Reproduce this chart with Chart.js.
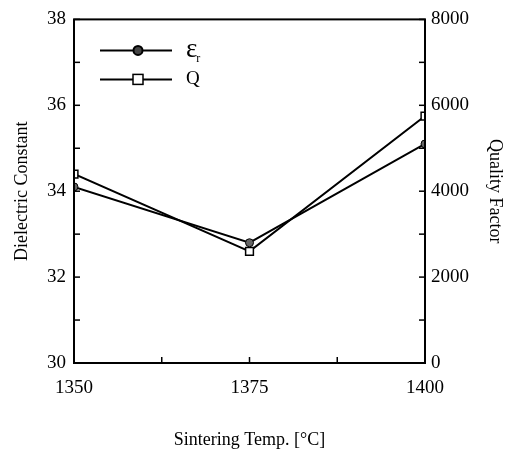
<!DOCTYPE html>
<html>
<head>
<meta charset="utf-8">
<script src="https://cdn.jsdelivr.net/npm/chart.js@4"></script>
<style>
  html, body { margin: 0; padding: 0; background: #fff; }
  #wrap { width: 519px; height: 458px; }
</style>
</head>
<body>
<div id="wrap"><canvas id="chart"></canvas></div>
<script>
// sintering temperature (x) and the two measured series
const temps = [1350, 1375, 1400];
const dielectric = [34.1, 32.8, 35.1];
const quality = [4400, 2600, 5750];

const xTickLabels = [1350, 1375, 1400];
const leftTickLabels = [30, 32, 34, 36, 38];
const rightTickLabels = [0, 2000, 4000, 6000, 8000];

const serif = "'Liberation Serif', 'DejaVu Serif', serif";

// draws the frame, inward tick marks and the little legend in the corner
const framePlugin = {
    id: "frame",
    afterDraw: function (chart) {
        const ctx = chart.ctx;
        const a = chart.chartArea;
        ctx.save();
        ctx.strokeStyle = "#000";
        ctx.lineWidth = 2;
        ctx.strokeRect(a.left, a.top, a.right - a.left, a.bottom - a.top);

        ctx.lineWidth = 1.5;
        const len = 6;
        chart.scales.y.ticks.forEach(function (t) {
            const p = chart.scales.y.getPixelForValue(t.value);
            ctx.beginPath(); ctx.moveTo(a.left, p); ctx.lineTo(a.left + len, p); ctx.stroke();
        });
        chart.scales.y1.ticks.forEach(function (t) {
            const p = chart.scales.y1.getPixelForValue(t.value);
            ctx.beginPath(); ctx.moveTo(a.right, p); ctx.lineTo(a.right - len, p); ctx.stroke();
        });
        chart.scales.x.ticks.forEach(function (t) {
            const p = chart.scales.x.getPixelForValue(t.value);
            ctx.beginPath(); ctx.moveTo(p, a.bottom); ctx.lineTo(p, a.bottom - len); ctx.stroke();
        });

        // legend
        const lx = a.left + 26, rx = a.left + 98, mx = a.left + 64, tx = a.left + 112;
        const y1 = a.top + 31, y2 = a.top + 60;
        ctx.lineWidth = 2;
        ctx.beginPath(); ctx.moveTo(lx, y1); ctx.lineTo(rx, y1); ctx.stroke();
        ctx.beginPath(); ctx.moveTo(lx, y2); ctx.lineTo(rx, y2); ctx.stroke();
        ctx.fillStyle = "#444";
        ctx.beginPath(); ctx.arc(mx, y1, 4.5, 0, Math.PI * 2); ctx.fill(); ctx.stroke();
        ctx.fillStyle = "#fff";
        ctx.lineWidth = 1.5;
        ctx.fillRect(mx - 5, y2 - 5, 10, 10);
        ctx.strokeRect(mx - 5, y2 - 5, 10, 10);

        ctx.fillStyle = "#000";
        ctx.textBaseline = "middle";
        ctx.textAlign = "left";
        ctx.font = "27px " + serif;
        ctx.fillText("ε", tx, y1);
        const w = ctx.measureText("ε").width;
        ctx.font = "12px " + serif;
        ctx.fillText("r", tx + w - 1, y1 + 8);
        ctx.font = "19px " + serif;
        ctx.fillText("Q", tx, y2);
        ctx.restore();
    }
};

new Chart(document.getElementById("chart"), {
    type: "line",
    data: {
        datasets: [
            {
                label: "εr",
                data: temps.map((t, i) => ({ x: t, y: dielectric[i] })),
                yAxisID: "y",
                borderColor: "#000",
                borderWidth: 2,
                pointStyle: "circle",
                pointRadius: 4,
                pointBackgroundColor: "#666",
                pointBorderColor: "#000",
                pointBorderWidth: 1,
                tension: 0
            },
            {
                label: "Q",
                data: temps.map((t, i) => ({ x: t, y: quality[i] })),
                yAxisID: "y1",
                borderColor: "#000",
                borderWidth: 2,
                pointStyle: "rect",
                pointRadius: 5.5,
                pointBackgroundColor: "#fff",
                pointBorderColor: "#000",
                pointBorderWidth: 1.5,
                tension: 0
            }
        ]
    },
    options: {
        responsive: true,
        maintainAspectRatio: false,
        animation: false,
        events: [],
        layout: { padding: { top: 16, left: 0, right: 0, bottom: 0 } },
        plugins: {
            legend: { display: false },
            tooltip: { enabled: false }
        },
        scales: {
            x: {
                type: "linear",
                min: 1350,
                max: 1400,
                ticks: {
                    stepSize: 12.5,
                    autoSkip: false,
                    maxRotation: 0,
                    padding: 14,
                    color: "#000",
                    font: { family: serif, size: 19 },
                    callback: v => xTickLabels.includes(v) ? String(v) : ""
                },
                grid: { display: true, drawOnChartArea: false, drawTicks: false },
                border: { display: false },
                title: {
                    display: true,
                    text: "Sintering Temp. [\u00B0C]",
                    color: "#000",
                    font: { family: serif, size: 18 },
                    padding: { top: 0, bottom: 7 }
                },
                afterFit: s => { s.height = 95; }
            },
            y: {
                position: "left",
                min: 30,
                max: 38,
                ticks: {
                    stepSize: 1,
                    autoSkip: false,
                    padding: 8,
                    color: "#000",
                    font: { family: serif, size: 19 },
                    callback: v => leftTickLabels.includes(v) ? String(v) : ""
                },
                grid: { display: true, drawOnChartArea: false, drawTicks: false },
                border: { display: false },
                title: {
                    display: true,
                    text: "Dielectric Constant",
                    color: "#000",
                    font: { family: serif, size: 18 },
                    padding: { top: 11, bottom: 0 }
                },
                afterFit: s => { s.width = 74; }
            },
            y1: {
                position: "right",
                min: 0,
                max: 8000,
                ticks: {
                    stepSize: 1000,
                    autoSkip: false,
                    padding: 6,
                    color: "#000",
                    font: { family: serif, size: 19 },
                    callback: v => rightTickLabels.includes(v) ? String(v) : ""
                },
                grid: { display: true, drawOnChartArea: false, drawTicks: false },
                border: { display: false },
                title: {
                    display: true,
                    text: "Quality Factor",
                    color: "#000",
                    font: { family: serif, size: 18 },
                    padding: { top: 13, bottom: 0 }
                },
                afterFit: s => { s.width = 94; }
            }
        }
    },
    plugins: [framePlugin]
});
</script>
</body>
</html>
